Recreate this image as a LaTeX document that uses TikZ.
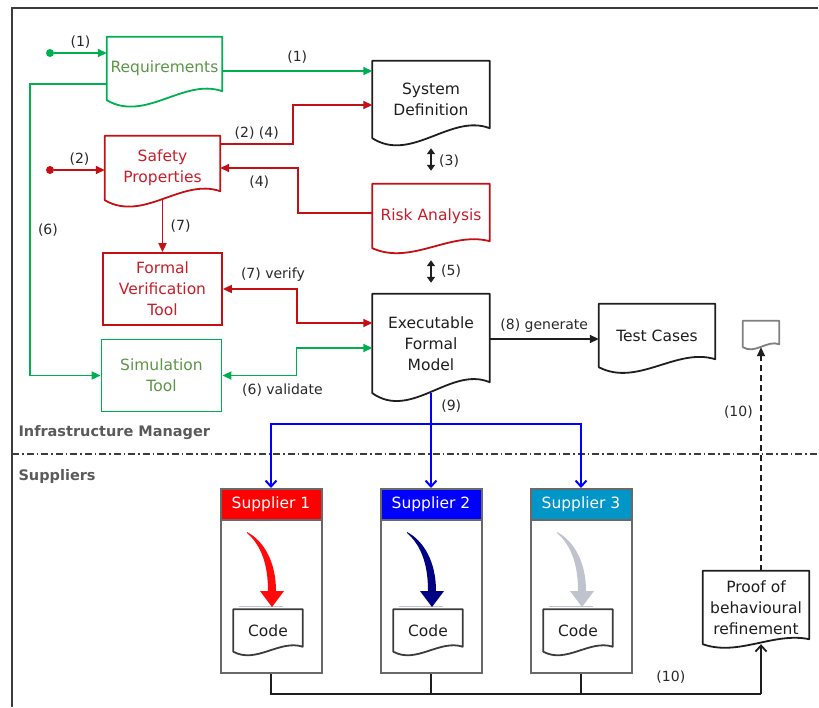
\documentclass[tikz,border=0pt]{standalone}
\usepackage{fontspec}
\setmainfont{DejaVu Sans}
\usetikzlibrary{arrows.meta,calc}
\definecolor{grn}{RGB}{0,176,80}
\definecolor{grntext}{RGB}{90,150,70}
\definecolor{rd}{RGB}{196,16,20}
\definecolor{rdtext}{RGB}{200,30,40}
\definecolor{ink}{RGB}{30,30,30}
\definecolor{lbltext}{RGB}{40,40,40}
\definecolor{lanetext}{RGB}{90,90,90}
\definecolor{framecol}{RGB}{60,60,60}
\definecolor{suplcol}{RGB}{105,105,105}
\definecolor{supAcol}{RGB}{255,0,0}
\definecolor{supBcol}{RGB}{0,0,255}
\definecolor{supCcol}{RGB}{0,150,200}
\definecolor{arrAcol}{RGB}{255,10,10}
\definecolor{arrBcol}{RGB}{0,0,130}
\definecolor{arrCcol}{RGB}{190,195,205}
\definecolor{blu}{RGB}{0,0,255}
\tikzset{
  box/.style={align=center, inner sep=0pt, text=ink, font=\fontsize{15.5}{21}\selectfont},
  lbl/.style={text=lbltext, font=\fontsize{14}{16}\selectfont},
  lane/.style={anchor=west, text=lanetext, font=\fontsize{14.5}{16}\selectfont\bfseries},
  docline/.style={line width=1.8pt, line join=round},
  dot/.style={circle, inner sep=0pt, minimum size=8pt},
  garrow/.style={draw=grn, line width=1.8pt, -{Triangle[length=9pt,width=8pt]}},
  rarrow/.style={draw=rd, line width=1.8pt, -{Triangle[length=9pt,width=8pt]}},
  karrow/.style={draw=ink, line width=1.8pt, -{Triangle[length=9pt,width=8pt]}},
  dblarrow/.style={draw=ink, line width=1.8pt, {Triangle[length=6pt,width=8pt]}-{Triangle[length=6pt,width=8pt]}},
  blueline/.style={draw=blu, line width=2pt, -{Straight Barb[length=6pt,width=11pt]}},
  bline/.style={draw=ink, line width=1.8pt},
  supbody/.style={draw=suplcol, line width=2pt, minimum width=101, minimum height=184, inner sep=0pt},
  suphead/.style={draw=suplcol, line width=2pt, minimum width=101, minimum height=31, inner sep=0pt, text=white, font=\fontsize{15.5}{18}\selectfont},
}
\begin{document}
\begin{tikzpicture}[x=1pt,y=-1pt]
\useasboundingbox (0,0) rectangle (819,707);
\draw[framecol, line width=2pt] (12,707) -- (12,8) -- (818,8);

% infrastructure manager
\node[box, text=grntext, minimum width=115, minimum height=63] (req) at (164.5,68.5) {Requirements};
\node[box, minimum width=117, minimum height=77] (sysdef) at (431,99.5) {System\\Definition};
\node[box, text=rdtext, minimum width=115, minimum height=64] (safety) at (162.5,168) {Safety\\Properties};
\node[box, text=rdtext, minimum width=117, minimum height=64] (risk) at (431,216) {Risk Analysis};
\node[box, draw=rd, line width=1.8pt, text=rdtext, minimum width=119, minimum height=72] (fvt) at (162.5,289) {Formal\\Verification\\Tool};
\node[box, draw=grn, line width=1.8pt, text=grntext, minimum width=120, minimum height=72] (sim) at (161.5,375.5) {Simulation\\Tool};
\node[box, minimum width=117, minimum height=99] (efm) at (431,343.5) {Executable\\Formal\\Model};
\node[box, minimum width=116, minimum height=63] (test) at (657,335.5) {Test Cases};
\node[box, minimum width=36, minimum height=26] (blank) at (761,334) {};
\node[box, minimum width=106, minimum height=73] (proof) at (756,607.5) {Proof of\\behavioural\\refinement};

\node[dot, fill=grn] (gdot) at (50,53) {};
\node[dot, fill=rd] (rdot) at (50,170) {};

\node[lane] (infra) at (15,433) {Infrastructure Manager};
\node[lane] (suppl) at (15,476) {Suppliers};
\draw[framecol, line width=1.4pt, dash pattern=on 7pt off 3pt on 1.5pt off 3pt] (12,454) -- (818,454);

% suppliers
\foreach \cx/\hc/\ac/\i in {271/supAcol/arrAcol/1, 431/supBcol/arrBcol/2, 581/supCcol/arrCcol/3} {
  \node[supbody] (box\i) at (\cx,581) {};
  \node[suphead, fill=\hc] (sup\i) at (\cx,504.5) {Supplier \i};
  \draw[arrCcol, line width=1pt] (\cx-32,606) -- (\cx+12,606);
  \fill[\ac] (\cx-24,533) .. controls (\cx-9,546) and (\cx-3,566) .. (\cx-3,591) -- (\cx-11,591) -- (\cx+1,607) -- (\cx+13,591) -- (\cx+5,591) .. controls (\cx+5,562) and (\cx-7,541) .. (\cx-24,532) -- cycle;
  \node[box, minimum width=69, minimum height=42] (code\i) at (\cx-3,630.5) {Code};
}

% document outlines
\foreach \n/\c/\d in {req/grn/9, sysdef/ink/10, safety/rd/9, risk/rd/7, efm/ink/11, test/ink/8, blank/gray/3, proof/ink/5, code1/framecol/5, code2/framecol/5, code3/framecol/5}
  \draw[docline, draw=\c] (\n.north west) -- (\n.north east) -- ($(\n.south east)+(0,-\d)$) .. controls ($(\n.south west)!0.667!(\n.south east)+(0,-2.5*\d)$) and ($(\n.south west)!0.333!(\n.south east)+(0,2.5*\d)$) .. (\n.south west) -- cycle;

% connectors
\draw[garrow] (gdot) -- (gdot -| req.west) node[midway, above, lbl] {(1)};
\draw[garrow] ([yshift=-2.5pt]req.east) -- ([yshift=-2.5pt]req.east -| sysdef.west) node[midway, above=3pt, lbl] {(1)};
\draw[rarrow] (rdot) -- (rdot -| safety.west) node[midway, above, lbl] {(2)};
\draw[rarrow] ([yshift=-8pt]safety.north east) -- ++(73,0) node[midway, above, lbl] {(2) (4)} |- ([yshift=-5.5pt]sysdef.west);
\draw[rarrow] ([yshift=3pt]risk.west) -- ++(-74,0) |- (safety.east) node[pos=0.75, below=4pt, lbl] {(4)};
\draw[dblarrow, shorten <=10pt, shorten >=13pt] (sysdef.south) -- (risk.north) node[midway, right=4pt, lbl] {(3)};
\draw[dblarrow, shorten <=12pt, shorten >=11pt] (risk.south) -- (efm.north) node[midway, right=6pt, lbl] {(5)};
\draw[rarrow] (safety.south) -- (fvt.north) node[midway, right=4pt, lbl] {(7)};
\draw[rarrow, {Triangle[length=9pt,width=8pt]}-{Triangle[length=9pt,width=8pt]}] (fvt.east) -- ++(74,0) node[midway, above=3pt, xshift=13pt, lbl] {(7) verify} |- ([yshift=20.5pt]efm.west);
\draw[garrow, {Triangle[length=9pt,width=8pt]}-{Triangle[length=9pt,width=8pt]}] (sim.east) -- ++(74,0) node[midway, below=4pt, xshift=23pt, lbl] {(6) validate} |- ([yshift=-4.5pt]efm.west);
\draw[garrow] ([yshift=-15.5pt]req.west) -- ++(-77,0) |- (sim.west) node[pos=0.25, right=4pt, lbl] {(6)};
\draw[karrow] ([yshift=4.5pt]efm.east) -- ([yshift=4.5pt]efm.east -| test.west) node[midway, above=2pt, lbl] {(8) generate};

\draw[blueline] (efm.south) -- (sup2.north) node[pos=0.14, right=6pt, lbl] {(9)};
\coordinate (bus) at (431,424);
\draw[blueline] (bus) -| (sup1.north);
\draw[blueline] (bus) -| (sup3.north);

\coordinate (busB) at (761,694);
\draw[bline] (box1.south) |- (busB) node[pos=0.908, above=6pt, lbl] {(10)};
\draw[bline] (box2.south) -- (box2.south |- busB);
\draw[bline] (box3.south) -- (box3.south |- busB);
\draw[bline, -{Straight Barb[length=6pt,width=11pt]}] (busB) -- (busB |- proof.south);
\draw[bline, dashed, dash pattern=on 6pt off 4pt, -{Triangle[length=9pt,width=8pt]}] (proof.north -| blank.south) -- (blank.south) node[pos=0.71, left=4pt, lbl] {(10)};
\end{tikzpicture}
\end{document}
